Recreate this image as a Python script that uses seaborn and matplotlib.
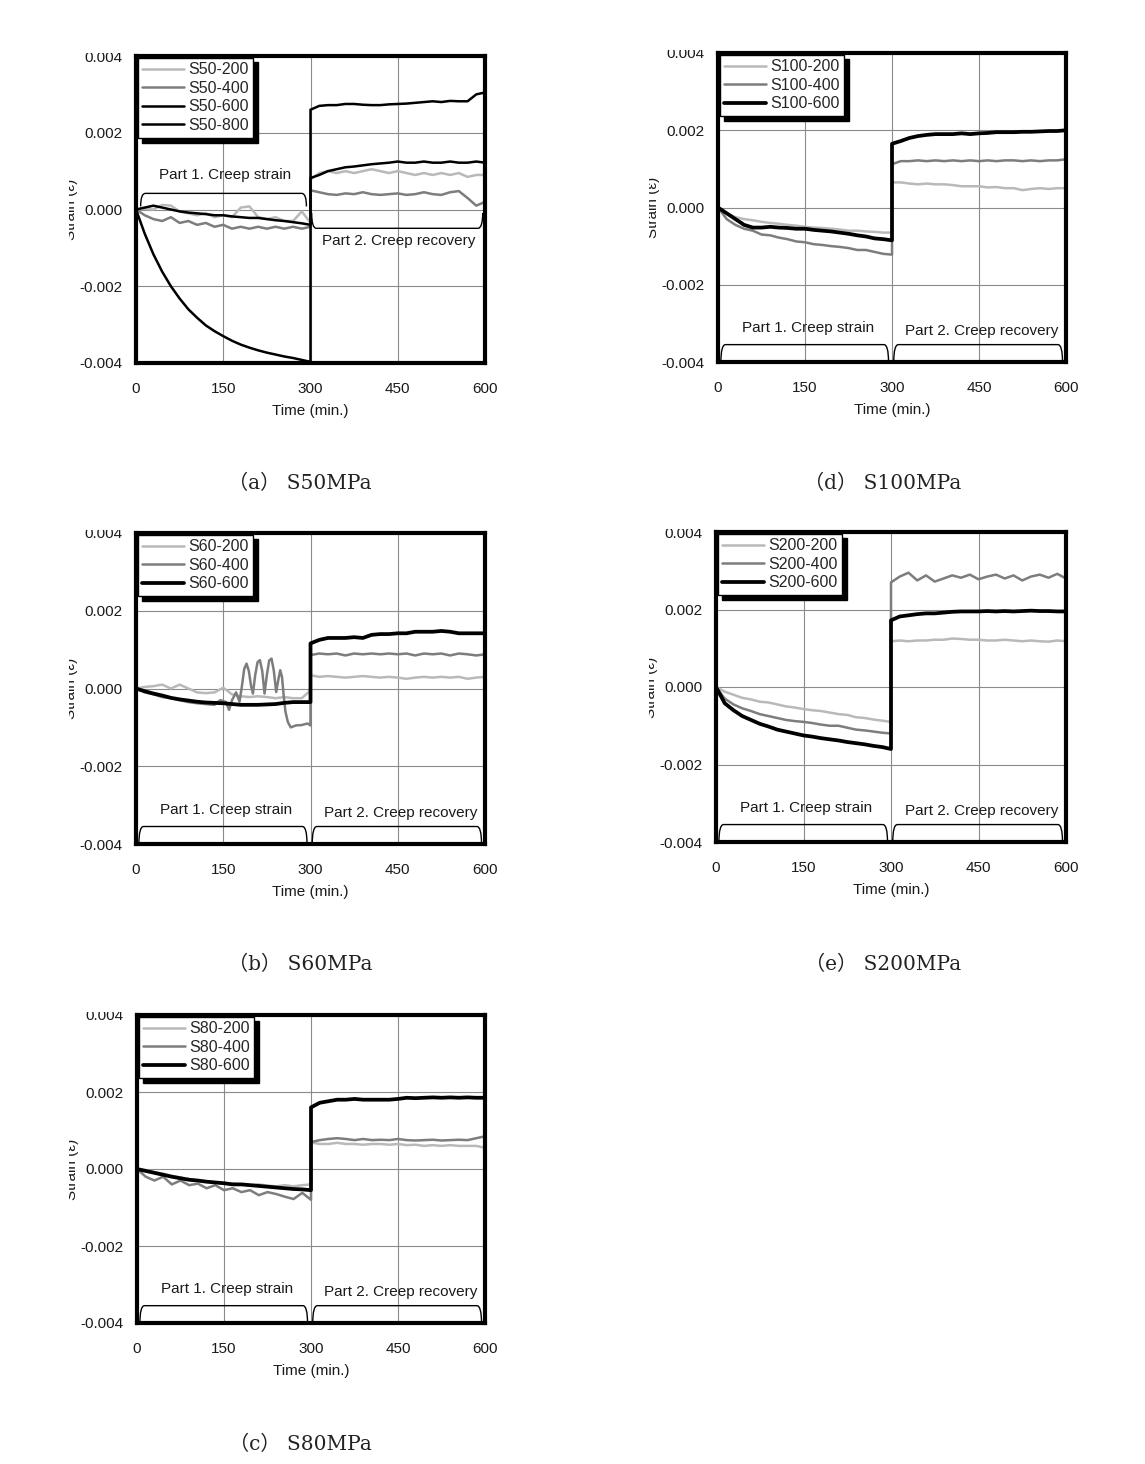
import numpy as np
import matplotlib
matplotlib.use("Agg")
import matplotlib.pyplot as plt
import seaborn as sns
from matplotlib.patches import PathPatch, Rectangle
from matplotlib.path import Path

sns.set_style("white")
plt.rcParams['font.family'] = ['Liberation Sans', 'DejaVu Sans']

# time (min.) : creep part and recovery part, values below are strain x 1e-3
t_creep = [0, 15, 30, 45, 60, 75, 90, 105, 120, 135, 150, 165, 180, 195, 210, 225, 240, 255, 270, 285, 300]
t_rec = [300, 315, 330, 345, 360, 375, 390, 405, 420, 435, 450, 465, 480, 495, 510, 525, 540, 555, 570, 585, 600]

x_ticks = [0, 150, 300, 450, 600]
x_minor = [75, 225, 375, 525]
y_ticks = [-0.004, -0.002, 0.0, 0.002, 0.004]
y_minor = [-0.003, -0.001, 0.001, 0.003]
y_ticklabels = ['-0.004', '-0.002', '0.000', '0.002', '0.004']

#%% S50
s50_200_c = [0.00, 0.02, 0.00, 0.12, 0.10, -0.05, -0.10, -0.15, -0.10, -0.20, -0.15, -0.20, 0.05, 0.08, -0.20, -0.25, -0.20, -0.30, -0.30, -0.05, -0.35]
s50_200_r = [0.78, 0.95, 1.00, 0.95, 1.00, 0.95, 1.00, 1.05, 1.00, 0.95, 1.00, 0.95, 0.90, 0.95, 0.90, 0.95, 0.90, 0.95, 0.85, 0.90, 0.90]
s50_400_c = [0.00, -0.15, -0.25, -0.30, -0.20, -0.35, -0.30, -0.40, -0.35, -0.45, -0.40, -0.50, -0.45, -0.50, -0.45, -0.50, -0.45, -0.50, -0.45, -0.50, -0.45]
s50_400_r = [0.50, 0.45, 0.40, 0.38, 0.42, 0.40, 0.45, 0.40, 0.38, 0.40, 0.42, 0.38, 0.40, 0.45, 0.40, 0.38, 0.45, 0.48, 0.30, 0.10, 0.20]
s50_600_c = [0.00, 0.05, 0.10, 0.05, 0.00, -0.05, -0.08, -0.10, -0.12, -0.15, -0.15, -0.18, -0.20, -0.22, -0.22, -0.25, -0.28, -0.30, -0.33, -0.36, -0.40]
s50_600_r = [0.82, 0.90, 1.00, 1.05, 1.10, 1.12, 1.15, 1.18, 1.20, 1.22, 1.25, 1.22, 1.22, 1.25, 1.22, 1.22, 1.25, 1.22, 1.22, 1.25, 1.22]
s50_800_c = [0.00, -0.63, -1.17, -1.62, -2.00, -2.32, -2.60, -2.82, -3.02, -3.17, -3.30, -3.42, -3.52, -3.60, -3.67, -3.73, -3.78, -3.83, -3.87, -3.92, -3.97]
s50_800_r = [2.60, 2.70, 2.72, 2.72, 2.75, 2.75, 2.73, 2.72, 2.72, 2.74, 2.75, 2.76, 2.78, 2.80, 2.82, 2.80, 2.83, 2.82, 2.82, 3.00, 3.05]

#%% S100
s100_200_c = [0.00, -0.15, -0.25, -0.30, -0.33, -0.37, -0.40, -0.42, -0.45, -0.47, -0.50, -0.52, -0.53, -0.55, -0.57, -0.60, -0.60, -0.62, -0.63, -0.65, -0.65]
s100_200_r = [0.65, 0.65, 0.62, 0.60, 0.62, 0.60, 0.60, 0.58, 0.55, 0.55, 0.55, 0.52, 0.53, 0.50, 0.50, 0.45, 0.48, 0.50, 0.48, 0.50, 0.50]
s100_400_c = [0.00, -0.30, -0.45, -0.55, -0.60, -0.70, -0.72, -0.78, -0.82, -0.88, -0.90, -0.95, -0.97, -1.00, -1.02, -1.05, -1.10, -1.10, -1.15, -1.20, -1.22]
s100_400_r = [1.12, 1.20, 1.20, 1.22, 1.20, 1.22, 1.20, 1.22, 1.20, 1.22, 1.20, 1.22, 1.20, 1.22, 1.22, 1.20, 1.22, 1.20, 1.22, 1.22, 1.25]
s100_600_c = [0.00, -0.15, -0.30, -0.45, -0.52, -0.52, -0.50, -0.52, -0.53, -0.55, -0.55, -0.58, -0.60, -0.62, -0.65, -0.68, -0.72, -0.75, -0.80, -0.82, -0.85]
s100_600_r = [1.65, 1.72, 1.80, 1.85, 1.88, 1.90, 1.90, 1.90, 1.92, 1.90, 1.92, 1.93, 1.95, 1.95, 1.95, 1.96, 1.96, 1.97, 1.98, 1.98, 2.00]

#%% S60 (S60-400 has its own time base because of the jumps)
s60_200_c = [0.00, 0.04, 0.06, 0.10, 0.00, 0.10, 0.00, -0.10, -0.12, -0.10, 0.02, -0.15, -0.20, -0.22, -0.20, -0.22, -0.25, -0.22, -0.25, -0.25, -0.05]
s60_200_r = [0.34, 0.30, 0.32, 0.30, 0.28, 0.30, 0.32, 0.30, 0.28, 0.30, 0.28, 0.25, 0.28, 0.30, 0.28, 0.30, 0.28, 0.30, 0.25, 0.28, 0.30]
t_s60_400_c = [0, 15, 30, 45, 60, 75, 90, 105, 120, 135, 145, 155, 160, 165, 172, 178, 182, 186, 190, 194, 198, 201,
               205, 209, 213, 217, 221, 225, 229, 233, 237, 241, 245, 248, 251, 254, 257, 261, 266, 275, 285, 295, 300]
s60_400_c = [0.00, -0.10, -0.15, -0.22, -0.25, -0.30, -0.35, -0.38, -0.40, -0.42, -0.30, -0.35, -0.55, -0.30, -0.10, -0.34,
             0.05, 0.50, 0.64, 0.45, 0.05, -0.13, 0.35, 0.68, 0.73, 0.45, -0.13, 0.35, 0.72, 0.77, 0.45, -0.09, 0.25,
             0.47, 0.30, -0.20, -0.60, -0.86, -1.00, -0.95, -0.94, -0.90, -0.95]
s60_400_r = [0.86, 0.90, 0.88, 0.90, 0.85, 0.90, 0.88, 0.90, 0.88, 0.90, 0.88, 0.90, 0.85, 0.90, 0.88, 0.90, 0.85, 0.90, 0.88, 0.85, 0.88]
s60_600_c = [0.00, -0.07, -0.13, -0.18, -0.24, -0.28, -0.31, -0.34, -0.36, -0.37, -0.38, -0.40, -0.42, -0.42, -0.42, -0.41, -0.40, -0.37, -0.35, -0.35, -0.35]
s60_600_r = [1.16, 1.25, 1.30, 1.30, 1.30, 1.32, 1.30, 1.38, 1.40, 1.40, 1.42, 1.42, 1.46, 1.46, 1.46, 1.48, 1.46, 1.42, 1.42, 1.42, 1.42]

#%% S200
s200_200_c = [0.00, -0.12, -0.20, -0.28, -0.32, -0.38, -0.40, -0.45, -0.50, -0.53, -0.57, -0.60, -0.62, -0.66, -0.70, -0.72, -0.78, -0.80, -0.84, -0.87, -0.90]
s200_200_r = [1.18, 1.20, 1.18, 1.20, 1.20, 1.22, 1.22, 1.25, 1.24, 1.22, 1.22, 1.20, 1.20, 1.22, 1.20, 1.18, 1.20, 1.18, 1.17, 1.20, 1.18]
s200_400_c = [0.00, -0.30, -0.45, -0.55, -0.62, -0.70, -0.75, -0.80, -0.85, -0.88, -0.90, -0.93, -0.97, -1.00, -1.00, -1.05, -1.10, -1.12, -1.15, -1.18, -1.20]
s200_400_r = [2.70, 2.85, 2.95, 2.75, 2.88, 2.72, 2.80, 2.88, 2.82, 2.90, 2.78, 2.85, 2.90, 2.80, 2.88, 2.75, 2.85, 2.90, 2.82, 2.92, 2.80]
s200_600_c = [0.00, -0.42, -0.60, -0.75, -0.85, -0.95, -1.02, -1.10, -1.15, -1.20, -1.25, -1.28, -1.32, -1.35, -1.38, -1.42, -1.45, -1.48, -1.52, -1.55, -1.60]
s200_600_r = [1.72, 1.82, 1.85, 1.88, 1.90, 1.90, 1.92, 1.94, 1.95, 1.95, 1.95, 1.96, 1.95, 1.96, 1.95, 1.96, 1.97, 1.96, 1.96, 1.95, 1.95]

#%% S80
s80_200_c = [0.00, -0.03, -0.08, -0.12, -0.18, -0.22, -0.26, -0.30, -0.32, -0.35, -0.38, -0.38, -0.40, -0.42, -0.40, -0.43, -0.45, -0.42, -0.45, -0.42, -0.40]
s80_200_r = [0.69, 0.65, 0.65, 0.68, 0.65, 0.65, 0.63, 0.65, 0.65, 0.63, 0.65, 0.62, 0.63, 0.60, 0.62, 0.60, 0.62, 0.60, 0.60, 0.60, 0.55]
s80_400_c = [0.00, -0.20, -0.30, -0.20, -0.40, -0.30, -0.42, -0.38, -0.50, -0.42, -0.55, -0.50, -0.60, -0.55, -0.68, -0.60, -0.65, -0.72, -0.78, -0.62, -0.80]
s80_400_r = [0.70, 0.75, 0.78, 0.80, 0.78, 0.75, 0.78, 0.75, 0.76, 0.75, 0.78, 0.75, 0.74, 0.75, 0.76, 0.74, 0.75, 0.76, 0.75, 0.80, 0.85]
s80_600_c = [0.00, -0.05, -0.10, -0.15, -0.20, -0.24, -0.28, -0.30, -0.33, -0.35, -0.37, -0.40, -0.40, -0.42, -0.44, -0.46, -0.48, -0.50, -0.52, -0.53, -0.55]
s80_600_r = [1.60, 1.72, 1.76, 1.80, 1.80, 1.82, 1.80, 1.80, 1.80, 1.80, 1.82, 1.85, 1.84, 1.85, 1.86, 1.85, 1.86, 1.85, 1.86, 1.85, 1.85]

light, mid, dark = '#b9b9b9', '#7d7d7d', '#000000'

# panel: caption, axes rect in pixels (left, top, right, bottom), series, bracket layout
W, H = 1145, 1464
panels = [
    ("（a） S50MPa", (136, 56, 485, 363), [
        ("S50-200", t_creep, s50_200_c, s50_200_r, light, 1.8),
        ("S50-400", t_creep, s50_400_c, s50_400_r, mid, 1.8),
        ("S50-600", t_creep, s50_600_c, s50_600_r, dark, 1.8),
        ("S50-800", t_creep, s50_800_c, s50_800_r, dark, 1.8)], "mid"),
    ("（d） S100MPa", (718, 53, 1066, 362), [
        ("S100-200", t_creep, s100_200_c, s100_200_r, light, 1.8),
        ("S100-400", t_creep, s100_400_c, s100_400_r, mid, 1.8),
        ("S100-600", t_creep, s100_600_c, s100_600_r, dark, 2.7)], "low"),
    ("（b） S60MPa", (136, 533, 485, 844), [
        ("S60-200", t_creep, s60_200_c, s60_200_r, light, 1.8),
        ("S60-400", t_s60_400_c, s60_400_c, s60_400_r, mid, 1.8),
        ("S60-600", t_creep, s60_600_c, s60_600_r, dark, 2.7)], "low"),
    ("（e） S200MPa", (716, 532, 1066, 842), [
        ("S200-200", t_creep, s200_200_c, s200_200_r, light, 1.8),
        ("S200-400", t_creep, s200_400_c, s200_400_r, mid, 1.8),
        ("S200-600", t_creep, s200_600_c, s200_600_r, dark, 2.7)], "low"),
    ("（c） S80MPa", (137, 1015, 485, 1323), [
        ("S80-200", t_creep, s80_200_c, s80_200_r, light, 1.8),
        ("S80-400", t_creep, s80_400_c, s80_400_r, mid, 1.8),
        ("S80-600", t_creep, s80_600_c, s80_600_r, dark, 2.7)], "low"),
]
caption_pos = [(300, 483), (883, 483), (300, 964), (883, 964), (300, 1444)]


def bracket(ax, x0, x1, ybar, yend, r=8):
    verts = [(x0, yend), (x0, ybar), (x0 + r, ybar), (x1 - r, ybar), (x1, ybar), (x1, yend)]
    codes = [Path.MOVETO, Path.CURVE3, Path.CURVE3, Path.LINETO, Path.CURVE3, Path.CURVE3]
    ax.add_patch(PathPatch(Path(verts, codes), fill=False, lw=1.0, ec='black',
                           clip_on=False, zorder=4))


fig = plt.figure(figsize=(W / 100, H / 100), dpi=100)

for (caption, (l, t, r, b), series, style), (cx, cy) in zip(panels, caption_pos):
    ax = fig.add_axes([l / W, 1 - b / H, (r - l) / W, (b - t) / H])
    for name, tc, vc, vr, col, lw in series:
        tt = list(tc) + list(t_rec)
        vv = np.array(list(vc) + list(vr)) * 1e-3
        sns.lineplot(x=tt, y=vv, ax=ax, color=col, lw=lw, label=name,
                     estimator=None, sort=False)

    ax.set_xlim(0, 600)
    ax.set_ylim(-0.004, 0.004)
    ax.set_xticks(x_ticks)
    ax.set_xticks(x_minor, minor=True)
    ax.set_yticks(y_ticks)
    ax.set_yticklabels(y_ticklabels)
    ax.set_yticks(y_minor, minor=True)
    ax.tick_params(which='major', direction='inout', length=7, width=1.5,
                   labelsize=11, labelcolor='#1a1a1a', color='black')
    ax.tick_params(axis='x', which='major', pad=10)
    ax.tick_params(axis='y', which='major', pad=6)
    ax.tick_params(which='minor', direction='in', length=4, width=1.5, color='black')
    ax.grid(True, which='major', color='#8a8a8a', lw=0.8)
    ax.set_axisbelow(True)
    for sp in ax.spines.values():
        sp.set_linewidth(3)
        sp.set_color('black')
    ax.set_xlabel('Time (min.)', fontsize=11, color='#1a1a1a', labelpad=6)
    ax.set_ylabel('Strain (ε)', fontsize=11, color='#1a1a1a', labelpad=1)

    leg = ax.legend(loc='upper left', borderaxespad=0.1, fontsize=11.5, frameon=True,
                    fancybox=False, edgecolor='black', framealpha=1,
                    shadow={'ox': 3.5, 'oy': -3.5, 'facecolor': 'black',
                            'edgecolor': 'black', 'alpha': 1},
                    handlelength=2.6, handletextpad=0.25, labelspacing=0.22,
                    borderpad=0.3)
    leg.get_frame().set_linewidth(1.0)
    leg.set_zorder(6)

    if style == "mid":
        bracket(ax, 8, 293, 0.42e-3, 0.08e-3)
        bracket(ax, 302, 596, -0.49e-3, -0.09e-3)
        ax.text(153, 0.91e-3, "Part 1. Creep strain", ha='center', va='center',
                fontsize=11, color='#1a1a1a')
        ax.text(452, -0.82e-3, "Part 2. Creep recovery", ha='center', va='center',
                fontsize=11, color='#1a1a1a')
    else:
        bracket(ax, 5, 294, -3.55e-3, -4.0e-3)
        bracket(ax, 303, 594, -3.55e-3, -4.0e-3)
        ax.text(155, -3.12e-3, "Part 1. Creep strain", ha='center', va='center',
                fontsize=11, color='#1a1a1a')
        ax.text(455, -3.19e-3, "Part 2. Creep recovery", ha='center', va='center',
                fontsize=11, color='#1a1a1a')

    fig.text(cx / W, 1 - cy / H, caption, ha='center', va='center', fontsize=14.5,
             color='#222222', family=['DejaVu Serif', 'Noto Sans CJK KR'])

    # the source figure was cropped: y-label and top tick label are cut off
    xl = 70 if l < 300 else 650
    fig.add_artist(Rectangle((xl / W, 1 - (t - 3) / H), 62 / W, 30 / H,
                             transform=fig.transFigure, fc='white', ec='none', zorder=20))

for x0, x1 in [(0, 69), (560, 649)]:
    fig.add_artist(Rectangle((x0 / W, 0), (x1 - x0) / W, 1,
                             transform=fig.transFigure, fc='white', ec='none', zorder=20))

fig.savefig('out.png', dpi=100)
